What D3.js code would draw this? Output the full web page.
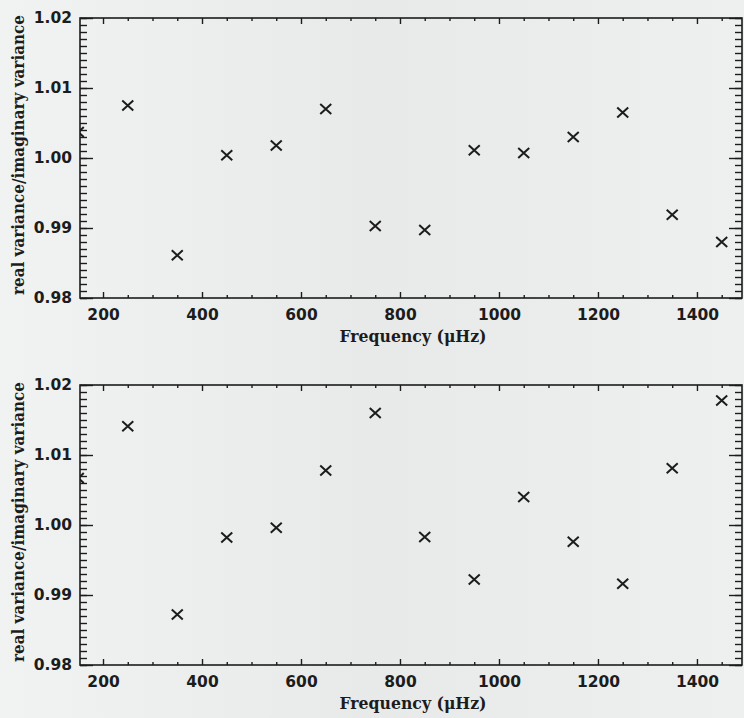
<!DOCTYPE html>
<html>
<head>
<meta charset="utf-8">
<script src="https://cdn.jsdelivr.net/npm/d3@7"></script>
<style>
	html, body { margin: 0; padding: 0; background: #eef0ef; }
	svg { display: block; }
	.tick text { font-family: "DejaVu Sans", sans-serif; font-weight: bold; font-size: 15.5px; fill: #1c1c1c; }
	.title { font-family: "DejaVu Serif", serif; font-weight: bold; font-size: 16px; fill: #1c1c1c; }
</style>
</head>
<body>
<script>
// frequency bins (microHz)
var freqs = [150, 250, 350, 450, 550, 650, 750, 850, 950, 1050, 1150, 1250, 1350, 1450];
// real variance / imaginary variance, upper panel
var ratioTop = [1.0037, 1.0075, 0.9861, 1.0004, 1.0018, 1.0070, 0.9903, 0.9897, 1.0011, 1.0007, 1.0030, 1.0065, 0.9919, 0.9880];
// lower panel
var ratioBottom = [1.0067, 1.0141, 0.9872, 0.9982, 0.9996, 1.0078, 1.0160, 0.9983, 0.9922, 1.0040, 0.9976, 0.9916, 1.0081, 1.0178];

var xTicks = [200, 400, 600, 800, 1000, 1200, 1400];
var yTicks = [0.98, 0.99, 1.00, 1.01, 1.02];
var yTickLabels = ["0.98", "0.99", "1.00", "1.01", "1.02"];

var width = 744, height = 718;
var ink = "#1c1c1c";

var svg = d3.select("body").append("svg")
	.attr("width", width)
	.attr("height", height);

// scanned paper look: slightly darker in the middle
var grad = svg.append("defs").append("linearGradient")
	.attr("id", "paper")
	.attr("x1", "0%").attr("x2", "100%").attr("y1", "0%").attr("y2", "0%");
grad.append("stop").attr("offset", "0%").attr("stop-color", "#f1f3f2");
grad.append("stop").attr("offset", "50%").attr("stop-color", "#e8eae9");
grad.append("stop").attr("offset", "100%").attr("stop-color", "#eef0ef");
svg.append("rect")
	.attr("width", width)
	.attr("height", height)
	.attr("fill", "url(#paper)");

var x = d3.scaleLinear()
	.domain([153.5, 1491])
	.range([80, 742]);

function drawPanel(top, values, id) {
	var y = d3.scaleLinear()
		.domain([0.98, 1.02])
		.range([top + 280, top]);

	var g = svg.append("g");

	// clip so the first point is cut by the left axis
	svg.select("defs").append("clipPath")
		.attr("id", "clip" + id)
		.append("rect")
		.attr("x", x.range()[0])
		.attr("y", top)
		.attr("width", x.range()[1] - x.range()[0])
		.attr("height", 280);

	var xMinor = d3.range(200, 1500, 50).filter(function (v) { return v % 200 != 0; });
	var yMinor = d3.range(0, 41).map(function (i) { return 0.98 + i * 0.001; });

	// bottom axis, major + minor
	g.append("g")
		.attr("transform", "translate(0," + y.range()[0] + ")")
		.call(d3.axisBottom(x).tickValues(xTicks).tickSizeInner(-6).tickSizeOuter(0).tickPadding(11).tickFormat(d3.format("d")));
	g.append("g")
		.attr("transform", "translate(0," + y.range()[0] + ")")
		.call(d3.axisBottom(x).tickValues(xMinor).tickSizeInner(-3).tickSizeOuter(0).tickFormat(""));
	// top axis, ticks only
	g.append("g")
		.attr("transform", "translate(0," + top + ")")
		.call(d3.axisTop(x).tickValues(xTicks).tickSizeInner(-6).tickSizeOuter(0).tickFormat(""));
	g.append("g")
		.attr("transform", "translate(0," + top + ")")
		.call(d3.axisTop(x).tickValues(xMinor).tickSizeInner(-3).tickSizeOuter(0).tickFormat(""));
	// left axis
	g.append("g")
		.attr("transform", "translate(" + x.range()[0] + ",0)")
		.call(d3.axisLeft(y).tickValues(yTicks).tickSizeInner(-13).tickSizeOuter(0).tickPadding(8)
			.tickFormat(function (d, i) { return yTickLabels[i]; }));
	g.append("g")
		.attr("transform", "translate(" + x.range()[0] + ",0)")
		.call(d3.axisLeft(y).tickValues(yMinor).tickSizeInner(-7).tickSizeOuter(0).tickFormat(""));
	// right axis
	g.append("g")
		.attr("transform", "translate(" + x.range()[1] + ",0)")
		.call(d3.axisRight(y).tickValues(yTicks).tickSizeInner(-13).tickSizeOuter(0).tickFormat(""));
	g.append("g")
		.attr("transform", "translate(" + x.range()[1] + ",0)")
		.call(d3.axisRight(y).tickValues(yMinor).tickSizeInner(-7).tickSizeOuter(0).tickFormat(""));

	g.selectAll(".domain").remove();
	g.selectAll(".tick line").attr("stroke", ink).attr("stroke-width", 1.4);

	// frame
	g.append("rect")
		.attr("x", x.range()[0])
		.attr("y", top)
		.attr("width", x.range()[1] - x.range()[0])
		.attr("height", 280)
		.attr("fill", "none")
		.attr("stroke", ink)
		.attr("stroke-width", 1.6);

	// X markers
	g.append("g")
		.attr("clip-path", "url(#clip" + id + ")")
		.selectAll("path").data(values)
		.enter().append("path")
			.attr("transform", function (d, i) {
				return "translate(" + x(freqs[i]) + "," + y(d) + ")";
			})
			.attr("d", "M-5.5,-5L5.5,5M5.5,-5L-5.5,5")
			.attr("fill", "none")
			.attr("stroke", ink)
			.attr("stroke-width", 2);

	// axis titles
	g.append("text")
		.attr("class", "title")
		.attr("text-anchor", "middle")
		.attr("x", 413)
		.attr("y", top + 324)
		.attr("textLength", 147)
		.attr("lengthAdjust", "spacingAndGlyphs")
		.text("Frequency (\u03bcHz)");
	g.append("text")
		.attr("class", "title")
		.attr("text-anchor", "middle")
		.attr("transform", "translate(24," + (top + 137) + ") rotate(-90)")
		.attr("textLength", 280)
		.attr("lengthAdjust", "spacingAndGlyphs")
		.text("real variance/imaginary variance");
}

drawPanel(18, ratioTop, "a");
drawPanel(385, ratioBottom, "b");
</script>
</body>
</html>
